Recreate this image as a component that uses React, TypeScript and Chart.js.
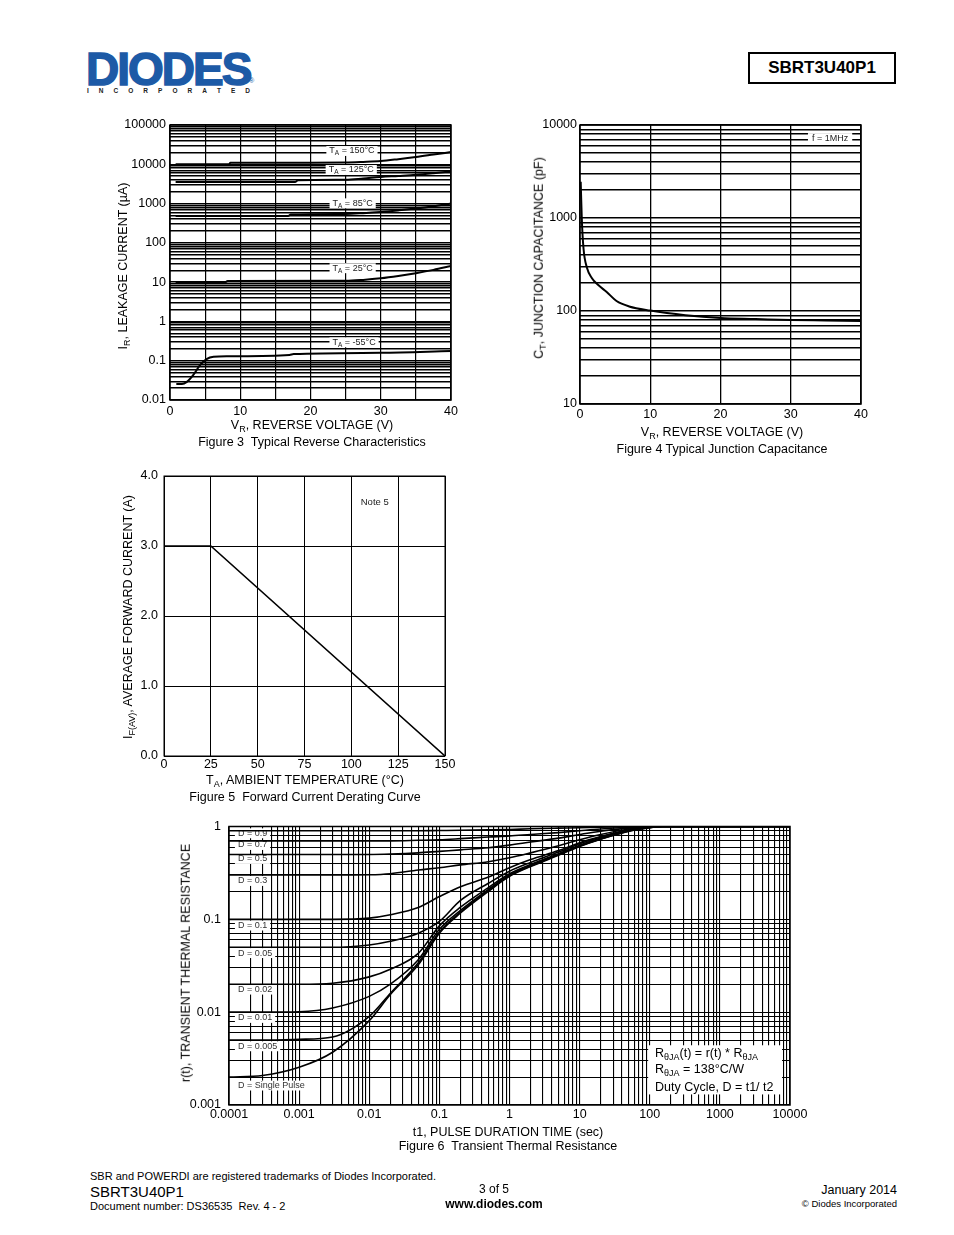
import React, { useEffect, useRef } from "react";
import { Chart, registerables } from "chart.js";

Chart.register(...registerables);

const FONT = '"Liberation Sans", Arial, Helvetica, sans-serif';

// ---------------- Figure 3 : Typical Reverse Characteristics ----------------
const fig3XLabelValues = [0, 10, 20, 30, 40];
const fig3YTicks = [0.01, 0.1, 1, 10, 100, 1000, 10000, 100000];
const fig3YLabels = ["0.01", "0.1", "1", "10", "100", "1000", "10000", "100000"];

const fig3V150 = [0.8, 8.4, 8.6, 20, 25, 27.5, 30, 32.5, 35, 37.5, 40];
const fig3I150 = [10000, 10000, 11000, 11000, 11100, 11500, 12100, 13500, 15300, 17700, 20500];
const fig3V125 = [0.8, 17.8, 18.2, 25, 27.5, 30, 32.5, 35, 37.5, 40];
const fig3I125 = [3550, 3550, 3900, 4050, 4350, 4750, 5050, 5400, 5950, 6650];
const fig3V85 = [0.8, 16.8, 17.2, 25, 27.5, 30, 32.5, 35, 37.5, 40];
const fig3I85 = [483, 483, 525, 545, 570, 610, 670, 745, 850, 1000];
const fig3V25 = [0.8, 7.8, 8.2, 25, 27.5, 30, 32.5, 35, 37.5, 40];
const fig3I25 = [9.7, 9.7, 10.7, 10.8, 11.4, 12.5, 14.3, 16.8, 20.5, 25.8];
const fig3Vm55 = [0.9, 1.7, 2.4, 3.3, 4.3, 5.2, 6.2, 8.3, 17, 17.6, 30, 40];
const fig3Im55 = [0.0255, 0.0255, 0.029, 0.043, 0.078, 0.11, 0.126, 0.13, 0.14, 0.148, 0.159, 0.176];

const fig3CurveLabels = [
  { x: 25.9, y: 21800, text: "T_{A} = 150°C" },
  { x: 25.8, y: 7160, text: "T_{A} = 125°C" },
  { x: 26.0, y: 1016, text: "T_{A} = 85°C" },
  { x: 26.0, y: 22.6, text: "T_{A} = 25°C" },
  { x: 26.2, y: 0.294, text: "T_{A} = -55°C" },
];

// ---------------- Figure 4 : Typical Junction Capacitance ----------------
const fig4XLabelValues = [0, 10, 20, 30, 40];
const fig4YTicks = [10, 100, 1000, 10000];
const fig4YLabels = ["10", "100", "1000", "10000"];
const fig4V = [0.1, 0.25, 0.5, 1, 1.7, 2.6, 3.8, 5.2, 7, 10, 15, 20, 25, 30, 35, 40];
const fig4C = [2450, 1000, 470, 290, 225, 190, 160, 128, 112, 101, 90, 84, 82, 80, 79, 78];
const fig4Note = { x: 35.6, y: 7240, text: "f = 1MHz" };

// ---------------- Figure 5 : Forward Current Derating Curve ----------------
const fig5XLabels = ["0", "25", "50", "75", "100", "125", "150"];
const fig5YLabels = ["0.0", "1.0", "2.0", "3.0", "4.0"];
const fig5Temp = [0, 25, 150];
const fig5Current = [3.0, 3.0, 0.0];
const fig5Note = { x: 112.5, y: 3.63, text: "Note 5" };

// ---------------- Figure 6 : Transient Thermal Resistance ----------------
const fig6XTicks = [1e-4, 1e-3, 1e-2, 0.1, 1, 10, 100, 1000, 10000];
const fig6XLabels = ["0.0001", "0.001", "0.01", "0.1", "1", "10", "100", "1000", "10000"];
const fig6YTicks = [0.001, 0.01, 0.1, 1];
const fig6YLabels = ["0.001", "0.01", "0.1", "1"];
const fig6Time = [1e-4, 3e-4, 1e-3, 3e-3, 0.01, 0.02, 0.05, 0.1, 0.2, 0.5, 1, 2, 5, 10, 20, 50, 100, 150, 1000, 10000];
const fig6Single = [0.002, 0.00208, 0.00255, 0.0037, 0.0081, 0.0155, 0.0324, 0.071, 0.117, 0.2, 0.29, 0.37, 0.49, 0.61, 0.73, 0.89, 0.97, 1, 1, 1];
const fig6D005 = [0.005, 0.005, 0.0051, 0.0054, 0.009, 0.016, 0.034, 0.073, 0.12, 0.205, 0.295, 0.375, 0.495, 0.615, 0.735, 0.89, 0.975, 1, 1, 1];
const fig6D01 = [0.01, 0.01, 0.0101, 0.0111, 0.0148, 0.02, 0.0367, 0.078, 0.125, 0.21, 0.3, 0.38, 0.5, 0.62, 0.74, 0.9, 0.975, 1, 1, 1];
const fig6D02 = [0.02, 0.02, 0.02, 0.0205, 0.024, 0.029, 0.043, 0.085, 0.135, 0.22, 0.31, 0.39, 0.51, 0.63, 0.75, 0.9, 0.98, 1, 1, 1];
const fig6D05 = [0.05, 0.05, 0.05, 0.05, 0.053, 0.058, 0.071, 0.095, 0.16, 0.245, 0.33, 0.41, 0.53, 0.65, 0.77, 0.91, 0.98, 1, 1, 1];
const fig6D1 = [0.1, 0.1, 0.1, 0.1, 0.103, 0.112, 0.134, 0.176, 0.225, 0.285, 0.36, 0.44, 0.55, 0.67, 0.78, 0.92, 0.985, 1, 1, 1];
const fig6D3 = [0.3, 0.3, 0.3, 0.3, 0.302, 0.31, 0.34, 0.36, 0.386, 0.418, 0.46, 0.52, 0.62, 0.72, 0.82, 0.94, 0.99, 1, 1, 1];
const fig6D5 = [0.5, 0.5, 0.5, 0.5, 0.5, 0.505, 0.52, 0.54, 0.56, 0.59, 0.63, 0.68, 0.75, 0.82, 0.89, 0.96, 1, 1, 1, 1];
const fig6D7 = [0.7, 0.7, 0.7, 0.7, 0.7, 0.7, 0.71, 0.72, 0.74, 0.77, 0.79, 0.82, 0.86, 0.9, 0.94, 0.98, 1, 1, 1, 1];
const fig6D9 = [0.9, 0.9, 0.9, 0.9, 0.9, 0.9, 0.9, 0.905, 0.91, 0.92, 0.93, 0.945, 0.96, 0.97, 0.985, 0.995, 1, 1, 1, 1];

const fig6DutyLabels = ["D = 0.9", "D = 0.7", "D = 0.5", "D = 0.3", "D = 0.1", "D = 0.05", "D = 0.02", "D = 0.01", "D = 0.005", "D = Single Pulse"];
const fig6DutyLabelY = [0.845, 0.632, 0.447, 0.259, 0.0857, 0.0433, 0.0175, 0.00867, 0.00429, 0.00162];
const fig6DutyLabelX = 1.34e-4;
const fig6NoteLines = ["R_{θJA}(t) = r(t) * R_{θJA}", "R_{θJA} = 138°C/W", "Duty Cycle, D = t1/ t2"];
const fig6NoteLineY = [0.00355, 0.0024, 0.00156];
const fig6NoteBox = { x1: 95, x2: 7700, y1: 0.0044, y2: 0.0013, textX: 119 };

// ---------------- helpers ----------------
type Frame = { left: number; top: number; width: number; height: number; yW: number; xH: number; pad: { left: number; top: number; right: number; bottom: number } };
function makeFrame(l: number, t: number, r: number, b: number, ml: number, mt: number, mr: number, mb: number, xH: number): Frame {
  return { left: l - ml, top: t - mt, width: r - l + ml + mr, height: b - t + mt + mb, yW: ml, xH, pad: { left: 0, top: mt, right: mr, bottom: mb - xH } };
}
function logGrid(minExp: number, maxExp: number): number[] {
  const out: number[] = [];
  for (let e = minExp; e < maxExp; e++) for (let m = 1; m < 10; m++) out.push(Number((m * Math.pow(10, e)).toPrecision(6)));
  out.push(Math.pow(10, maxExp));
  return out;
}
function linGrid(min: number, max: number, step: number): number[] {
  const out: number[] = [];
  for (let v = min; v <= max + 1e-9; v += step) out.push(Number(v.toPrecision(8)));
  return out;
}
function labelFor(v: number, vals: number[], labels: string[]): string {
  const i = vals.findIndex((t) => Math.abs(t - v) <= Math.abs(t) * 1e-6 + 1e-12);
  return i >= 0 ? labels[i] : "";
}
function xy(xs: number[], ys: number[]) {
  return xs.map((x, i) => ({ x, y: ys[i] }));
}
function parseRich(s: string) {
  const parts: { t: string; sub: boolean }[] = [];
  const re = /_\{([^}]*)\}/g;
  let last = 0;
  let m: RegExpExecArray | null;
  while ((m = re.exec(s))) {
    if (m.index > last) parts.push({ t: s.slice(last, m.index), sub: false });
    parts.push({ t: m[1], sub: true });
    last = re.lastIndex;
  }
  if (last < s.length) parts.push({ t: s.slice(last), sub: false });
  return parts;
}
function measureRich(ctx: CanvasRenderingContext2D, s: string, size: number) {
  let w = 0;
  for (const p of parseRich(s)) {
    ctx.font = `${p.sub ? size * 0.72 : size}px ${FONT}`;
    w += ctx.measureText(p.t).width;
  }
  return w;
}
function drawRich(ctx: CanvasRenderingContext2D, s: string, x: number, y: number, size: number, color: string) {
  ctx.textBaseline = "middle";
  ctx.textAlign = "left";
  ctx.fillStyle = color;
  let cx = x;
  for (const p of parseRich(s)) {
    ctx.font = `${p.sub ? size * 0.72 : size}px ${FONT}`;
    ctx.fillText(p.t, cx, p.sub ? y + size * 0.3 : y);
    cx += ctx.measureText(p.t).width;
  }
}

type TextAnn = { x: number; y: number; text: string; size: number; align: "left" | "center"; color: string; padX: number; padY: number; bg: boolean };
type BoxAnn = { x1: number; y1: number; x2: number; y2: number };

function overlayPlugin(texts: TextAnn[], boxes: BoxAnn[], frameWidth: number) {
  return {
    id: "overlay",
    beforeDatasetsDraw(chart: any) {
      const { ctx, chartArea: a, scales } = chart;
      const xs = scales.x;
      const ys = scales.y;
      ctx.save();
      ctx.fillStyle = "#fff";
      for (const b of boxes) {
        const X1 = xs.getPixelForValue(b.x1), X2 = xs.getPixelForValue(b.x2);
        const Y1 = ys.getPixelForValue(b.y1), Y2 = ys.getPixelForValue(b.y2);
        ctx.fillRect(Math.min(X1, X2), Math.min(Y1, Y2), Math.abs(X2 - X1), Math.abs(Y2 - Y1));
      }
      for (const t of texts) {
        const px = xs.getPixelForValue(t.x);
        const py = ys.getPixelForValue(t.y);
        const w = measureRich(ctx, t.text, t.size);
        const left = t.align === "center" ? px - w / 2 : px;
        if (t.bg) {
          ctx.fillStyle = "#fff";
          ctx.fillRect(left - t.padX, py - t.size * 0.55 - t.padY, w + 2 * t.padX, t.size * 1.1 + 2 * t.padY);
        }
        drawRich(ctx, t.text, left, py, t.size, t.color);
      }
      ctx.strokeStyle = "#000";
      ctx.lineWidth = frameWidth;
      ctx.strokeRect(a.left, a.top, a.right - a.left, a.bottom - a.top);
      ctx.restore();
    },
  };
}

function axis(opts: {
  type: "linear" | "logarithmic"; dir: "x" | "y"; min: number; max: number; grid: number[];
  label: (v: number) => string; frame: Frame; pad: number; lw: number; size: number;
}) {
  return {
    type: opts.type,
    min: opts.min,
    max: opts.max,
    afterFit: (s: any) => {
      if (opts.dir === "x") s.height = opts.frame.xH;
      else s.width = opts.frame.yW;
    },
    afterBuildTicks: (s: any) => {
      s.ticks = opts.grid.map((v) => ({ value: v }));
    },
    grid: { color: "#000", lineWidth: opts.lw, drawTicks: false },
    border: { display: false },
    ticks: {
      autoSkip: false,
      maxRotation: 0,
      minRotation: 0,
      padding: opts.pad,
      color: "#000",
      font: { family: FONT, size: opts.size },
      callback: (v: any) => opts.label(Number(v)),
    },
  };
}

function baseOptions(frame: Frame, scales: any) {
  return {
    responsive: false,
    animation: false,
    devicePixelRatio: 1,
    events: [],
    layout: { padding: frame.pad },
    plugins: { legend: { display: false }, tooltip: { enabled: false } },
    elements: { point: { radius: 0 }, line: { borderColor: "#000", borderWidth: 2 } },
    scales,
  };
}

function lineDs(data: { x: number; y: number }[], width: number, smooth = true) {
  return smooth
    ? { data, borderColor: "#000", borderWidth: width, pointRadius: 0, fill: false, cubicInterpolationMode: "monotone" }
    : { data, borderColor: "#000", borderWidth: width, pointRadius: 0, fill: false, tension: 0, cubicInterpolationMode: "default" };
}

// ---------------- frames (plot areas) ----------------
const frame3 = makeFrame(170, 125, 451, 400, 70, 15, 24, 30, 20);
const frame4 = makeFrame(580, 125, 861, 404, 60, 15, 24, 30, 20);
const frame5 = makeFrame(164, 476, 445, 756, 50, 15, 24, 30, 20);
const frame6 = makeFrame(229, 826, 790, 1105, 60, 15, 30, 30, 20);

function buildFig3() {
  const texts: TextAnn[] = fig3CurveLabels.map((l) => ({ x: l.x, y: l.y, text: l.text, size: 9, align: "center", color: "#222", padX: 3, padY: 0, bg: true }));
  return {
    type: "line",
    data: {
      datasets: [
        lineDs(xy(fig3V150, fig3I150), 2),
        lineDs(xy(fig3V125, fig3I125), 2),
        lineDs(xy(fig3V85, fig3I85), 2),
        lineDs(xy(fig3V25, fig3I25), 2),
        lineDs(xy(fig3Vm55, fig3Im55), 2),
      ],
    },
    options: baseOptions(frame3, {
      x: axis({ type: "linear", dir: "x", min: 0, max: 40, grid: linGrid(0, 40, 5), label: (v) => (fig3XLabelValues.includes(v) ? String(v) : ""), frame: frame3, pad: 4, lw: 1.2, size: 12.5 }),
      y: axis({ type: "logarithmic", dir: "y", min: 0.01, max: 100000, grid: logGrid(-2, 5), label: (v) => labelFor(v, fig3YTicks, fig3YLabels), frame: frame3, pad: 4, lw: 1.5, size: 12.5 }),
    }),
    plugins: [overlayPlugin(texts, [], 1.5)],
  };
}

function buildFig4() {
  const texts: TextAnn[] = [{ x: fig4Note.x, y: fig4Note.y, text: fig4Note.text, size: 9, align: "center", color: "#222", padX: 4, padY: 0, bg: true }];
  return {
    type: "line",
    data: { datasets: [lineDs(xy(fig4V, fig4C), 2)] },
    options: baseOptions(frame4, {
      x: axis({ type: "linear", dir: "x", min: 0, max: 40, grid: linGrid(0, 40, 10), label: (v) => (fig4XLabelValues.includes(v) ? String(v) : ""), frame: frame4, pad: 3, lw: 1.3, size: 12.5 }),
      y: axis({ type: "logarithmic", dir: "y", min: 10, max: 10000, grid: logGrid(1, 4), label: (v) => labelFor(v, fig4YTicks, fig4YLabels), frame: frame4, pad: 3, lw: 1.5, size: 12.5 }),
    }),
    plugins: [overlayPlugin(texts, [], 1.5)],
  };
}

function buildFig5() {
  const texts: TextAnn[] = [{ x: fig5Note.x, y: fig5Note.y, text: fig5Note.text, size: 9.5, align: "center", color: "#222", padX: 0, padY: 0, bg: false }];
  const xVals = linGrid(0, 150, 25);
  const yVals = linGrid(0, 4, 1);
  return {
    type: "line",
    data: { datasets: [lineDs(xy(fig5Temp, fig5Current), 1.6, false)] },
    options: baseOptions(frame5, {
      x: axis({ type: "linear", dir: "x", min: 0, max: 150, grid: xVals, label: (v) => labelFor(v, xVals, fig5XLabels), frame: frame5, pad: 1, lw: 1, size: 12.5 }),
      y: axis({ type: "linear", dir: "y", min: 0, max: 4, grid: yVals, label: (v) => labelFor(v, yVals, fig5YLabels), frame: frame5, pad: 6, lw: 1, size: 12.5 }),
    }),
    plugins: [overlayPlugin(texts, [], 1)],
  };
}

function buildFig6() {
  const texts: TextAnn[] = fig6DutyLabels.map((t, i) => ({ x: fig6DutyLabelX, y: fig6DutyLabelY[i], text: t, size: 9, align: "left", color: "#333", padX: 3, padY: 0, bg: true }));
  fig6NoteLines.forEach((t, i) => texts.push({ x: fig6NoteBox.textX, y: fig6NoteLineY[i], text: t, size: 12.5, align: "left", color: "#000", padX: 0, padY: 0, bg: false }));
  const boxes: BoxAnn[] = [{ x1: fig6NoteBox.x1, x2: fig6NoteBox.x2, y1: fig6NoteBox.y1, y2: fig6NoteBox.y2 }];
  const series = [fig6D9, fig6D7, fig6D5, fig6D3, fig6D1, fig6D05, fig6D02, fig6D01, fig6D005, fig6Single];
  return {
    type: "line",
    data: { datasets: series.map((s) => lineDs(xy(fig6Time, s), 1.6)) },
    options: baseOptions(frame6, {
      x: axis({ type: "logarithmic", dir: "x", min: 1e-4, max: 1e4, grid: logGrid(-4, 4), label: (v) => labelFor(v, fig6XTicks, fig6XLabels), frame: frame6, pad: 2, lw: 1.1, size: 12.5 }),
      y: axis({ type: "logarithmic", dir: "y", min: 0.001, max: 1, grid: logGrid(-3, 0), label: (v) => labelFor(v, fig6YTicks, fig6YLabels), frame: frame6, pad: 8, lw: 1.1, size: 12.5 }),
    }),
    plugins: [overlayPlugin(texts, boxes, 1.5)],
  };
}

function ChartBox({ frame, build }: { frame: Frame; build: () => any }) {
  const ref = useRef<HTMLCanvasElement>(null);
  useEffect(() => {
    const chart = new Chart(ref.current as HTMLCanvasElement, build());
    return () => chart.destroy();
  }, []);
  return (
    <canvas
      ref={ref}
      width={frame.width}
      height={frame.height}
      style={{ position: "absolute", left: frame.left, top: frame.top, width: frame.width, height: frame.height }}
    />
  );
}

function Rich({ text }: { text: string }) {
  return (
    <>
      {parseRich(text).map((p, i) =>
        p.sub ? (
          <span key={i} style={{ fontSize: "0.72em", position: "relative", top: "0.3em" }}>{p.t}</span>
        ) : (
          <span key={i}>{p.t}</span>
        )
      )}
    </>
  );
}

function Txt({ x, y, size, text, rotate, bold, align = "center" }: { x: number; y: number; size: number; text: string; rotate?: boolean; bold?: boolean; align?: "left" | "center" | "right" }) {
  const tx = align === "center" ? "-50%" : align === "left" ? "0" : "-100%";
  return (
    <div
      style={{
        position: "absolute",
        left: x,
        top: y,
        transform: rotate ? "translate(-50%,-50%) rotate(-90deg)" : `translate(${tx},-50%)`,
        whiteSpace: "pre",
        fontFamily: FONT,
        fontSize: size,
        fontWeight: bold ? "bold" : "normal",
        lineHeight: 1,
        color: "#000",
      }}
    >
      <Rich text={text} />
    </div>
  );
}

const logoLetters = ["I", "N", "C", "O", "R", "P", "O", "R", "A", "T", "E", "D"];

export default function App() {
  useEffect(() => {
    document.body.style.margin = "0";
  }, []);
  return (
    <div style={{ position: "absolute", left: 0, top: 0, width: 954, height: 1235, background: "#fff", overflow: "hidden", fontFamily: FONT }}>
      {/* logo */}
      <div style={{ position: "absolute", left: 86, top: 46, fontFamily: FONT, fontWeight: "bold", fontSize: 46, lineHeight: "46px", letterSpacing: "-2px", color: "#1d5aa6", WebkitTextStroke: "1.5px #1d5aa6" }}>DIODES</div>
      <div style={{ position: "absolute", left: 249, top: 77, fontFamily: FONT, fontSize: 7, color: "#1d5aa6" }}>®</div>
      <div style={{ position: "absolute", left: 87, top: 88, width: 163, display: "flex", justifyContent: "space-between", fontFamily: FONT, fontWeight: "bold", fontSize: 6.5, color: "#222", lineHeight: 1 }}>
        {logoLetters.map((c, i) => (
          <span key={i}>{c}</span>
        ))}
      </div>
      {/* part number box */}
      <div style={{ position: "absolute", left: 748, top: 52, width: 144, height: 28, border: "2px solid #000", display: "flex", alignItems: "center", justifyContent: "center", fontFamily: FONT, fontWeight: "bold", fontSize: 17 }}>SBRT3U40P1</div>

      {/* charts */}
      <ChartBox frame={frame3} build={buildFig3} />
      <ChartBox frame={frame4} build={buildFig4} />
      <ChartBox frame={frame5} build={buildFig5} />
      <ChartBox frame={frame6} build={buildFig6} />

      {/* figure 3 texts */}
      <Txt x={123} y={266} size={12.5} rotate text="I_{R}, LEAKAGE CURRENT (µA)" />
      <Txt x={312} y={425} size={12.5} text="V_{R}, REVERSE VOLTAGE (V)" />
      <Txt x={312} y={442} size={12.5} text="Figure 3  Typical Reverse Characteristics" />

      {/* figure 4 texts */}
      <Txt x={539} y={258} size={12.5} rotate text="C_{T}, JUNCTION CAPACITANCE (pF)" />
      <Txt x={722} y={432} size={12.5} text="V_{R}, REVERSE VOLTAGE (V)" />
      <Txt x={722} y={449} size={12.5} text="Figure 4 Typical Junction Capacitance" />

      {/* figure 5 texts */}
      <Txt x={128} y={617} size={12.5} rotate text="I_{F(AV)}, AVERAGE FORWARD CURRENT (A)" />
      <Txt x={305} y={780} size={12.5} text="T_{A}, AMBIENT TEMPERATURE (°C)" />
      <Txt x={305} y={797} size={12.5} text="Figure 5  Forward Current Derating Curve" />

      {/* figure 6 texts */}
      <Txt x={186} y={963} size={12.5} rotate text="r(t), TRANSIENT THERMAL RESISTANCE" />
      <Txt x={508} y={1132} size={12.5} text="t1, PULSE DURATION TIME (sec)" />
      <Txt x={508} y={1146} size={12.5} text="Figure 6  Transient Thermal Resistance" />

      {/* footer */}
      <Txt x={90} y={1176} size={11} align="left" text="SBR and POWERDI are registered trademarks of Diodes Incorporated." />
      <Txt x={90} y={1191} size={15} align="left" text="SBRT3U40P1" />
      <Txt x={90} y={1206} size={11} align="left" text="Document number: DS36535  Rev. 4 - 2" />
      <Txt x={494} y={1189} size={12} text="3 of 5" />
      <Txt x={494} y={1204} size={12} bold text="www.diodes.com" />
      <Txt x={897} y={1190} size={12.5} align="right" text="January 2014" />
      <Txt x={897} y={1204} size={9.5} align="right" text="© Diodes Incorporated" />
    </div>
  );
}
